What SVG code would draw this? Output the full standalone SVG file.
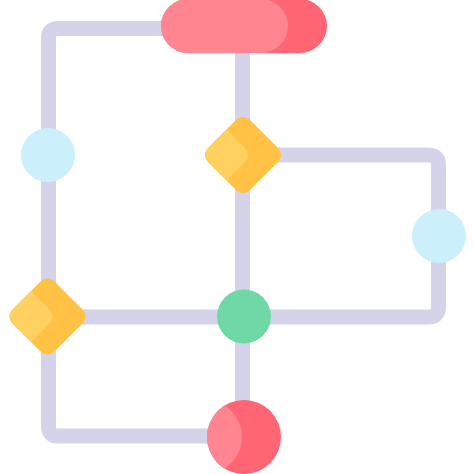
<svg xmlns="http://www.w3.org/2000/svg" width="474" height="474" viewBox="0 0 474 474">
<style>
.ln{fill:none;stroke:#d4d3ea;stroke-width:15;stroke-linejoin:round}
.blue{fill:#cbeffb}
.yd{fill:#ffc244}.yl{fill:#ffd160}
.rd{fill:#ff6572}.rl{fill:#ff8690}
.gr{fill:#6fd8a4}
</style>
<defs>
<path id="dia" d="M -8,-34 Q 0,-42 8,-34 L 34,-8 Q 42,0 34,8 L 8,34 Q 0,42 -8,34 L -34,8 Q -42,0 -34,-8 Z"/>
<clipPath id="dclip"><use href="#dia"/></clipPath>
<clipPath id="pclip"><rect x="161" y="-1" width="166" height="54" rx="27"/></clipPath>
<clipPath id="cclip"><circle cx="244" cy="437" r="37"/></clipPath>
</defs>
<g id="connectors">
<path class="ln" d="M 165,28.5 H 58 Q 48.5,28.5 48.5,38 V 426 Q 48.5,436 58,436 H 215"/>
<path class="ln" d="M 242.5,50 V 405"/>
<path class="ln" d="M 270,155 H 428 Q 438.5,155 438.5,165 V 307 Q 438.5,317 428,317 H 48.5"/>
</g>
<g id="start">
<rect class="rd" x="161" y="-1" width="166" height="54" rx="27"/>
<rect class="rl" clip-path="url(#pclip)" x="122" y="-1" width="166" height="54" rx="27"/>
</g>
<g id="input-left">
<circle class="blue" cx="48" cy="155" r="27"/>
</g>
<g id="decision-top" transform="translate(243,155)">
<use href="#dia" class="yd"/>
<g clip-path="url(#dclip)"><use href="#dia" class="yl" transform="translate(-33,0)"/></g>
</g>
<g id="input-right">
<circle class="blue" cx="439" cy="236" r="27"/>
</g>
<g id="decision-left" transform="translate(47.5,316.5)">
<use href="#dia" class="yd"/>
<g clip-path="url(#dclip)"><use href="#dia" class="yl" transform="translate(-33,0)"/></g>
</g>
<g id="process">
<circle class="gr" cx="244" cy="316.5" r="27"/>
</g>
<g id="end">
<circle class="rd" cx="244" cy="437" r="37"/>
<circle class="rl" clip-path="url(#cclip)" cx="205" cy="437" r="37"/>
</g>
</svg>
